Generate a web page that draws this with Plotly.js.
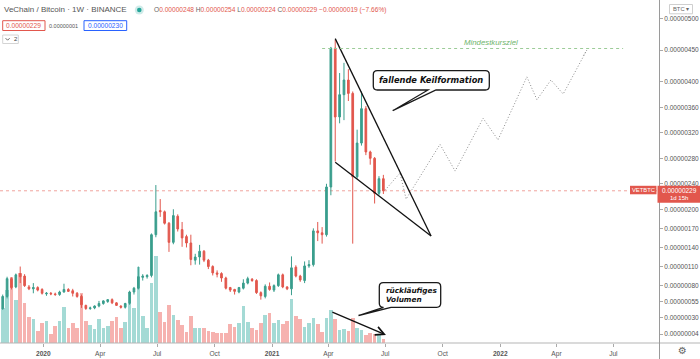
<!DOCTYPE html>
<html><head><meta charset="utf-8">
<script src="https://cdn.plot.ly/plotly-3.0.1.min.js"></script>
<style>html,body{margin:0;padding:0;background:#fff;}#chart{width:700px;height:359px;}</style>
</head><body><div id="chart"></div>
<script>
// ---- data (prices in satoshi = 1e-8 BTC, weekly candles starting 2019-10-28) ----
const START_WEEK = Date.UTC(2019, 9, 28);
const OPEN = [44,63,91,78,99,95,78,75,77,74, 67,68,67,66,70,74,72,68,63,49, 44,45,48,52,55,58,53,48,46,52,
  70,76,93,94,96,160,198,196,178,148, 189,168,157,147,120,125,134,120,110,100, 99,92,77,74,70,76,84,90,88,69,
  63,79,73,80,97,78,75,109,95,88, 111,113,166,163,160,235,453,345,380,403, 382,251,304,358,290,280,225,248];
const HIGH = [66,94,93,99,110,98,81,84,79,76, 70,70,69,72,83,76,75,70,66,50, 47,49,56,57,59,60,54,49,53,72,
  78,110,98,98,162,238,216,198,180,200, 192,180,160,160,130,144,136,122,112,104, 101,94,78,75,78,90,94,92,90,71,
  82,85,82,99,99,79,126,112,97,118, 120,170,180,172,240,455,466,414,430,420, 385,325,385,362,292,282,252,254];
const LOW = [42,60,74,76,84,78,73,68,71,66, 64,65,64,64,69,70,63,61,45,42, 42,43,46,50,53,51,48,44,44,50,
  66,74,88,91,93,156,188,176,133,145, 165,141,140,112,113,113,117,106,96,93, 86,74,70,66,68,74,82,86,67,58,
  60,72,70,78,76,73,65,93,86,84, 108,110,150,146,157,222,275,335,340,370, 146,248,300,285,270,209,222,224];
const CLOSE = [63,91,77,97,94,80,75,77,73,68, 68,67,66,70,74,71,68,63,50,44, 45,48,52,56,58,53,49,46,52,70,
  76,94,95,96,160,196,196,178,148,190, 169,155,147,121,125,134,120,110,100,98, 92,76,73,71,77,84,91,88,69,64,
  79,74,80,97,78,75,108,95,89,111, 113,166,163,160,235,453,345,380,403,382, 251,304,358,290,280,225,248,229];
const VOLUME = [347,530,663,430,697,403,257,237,120,197, 217,87,170,223,363,147,203,153,497,220,
  177,137,237,153,170,220,263,147,207,390, 350,763,270,147,597,870,313,213,380,280,
  230,180,113,273,147,147,147,123,113,97, 97,97,190,163,203,370,213,147,130,197,
  280,303,203,230,190,223,437,270,237,163, 203,253,190,113,247,330,237,130,137,123,
  250,150,130,80,100,90,80,40];
const Y_TICK_VALUES = [4,30,55,80,110,140,170,200,240,280,320,360,400,450,500];
const Y_TICK_LABELS = ['0.00000004','0.00000030','0.00000055','0.00000080','0.00000110','0.00000140','0.00000170',
  '0.00000200','0.00000240','0.00000280','0.00000320','0.00000360','0.00000400','0.00000450','0.00000500'];
const X_TICK_DATES = ['2020-01-01','2020-04-01','2020-07-01','2020-10-01','2021-01-01','2021-04-01','2021-07-01',
  '2021-10-01','2022-01-01','2022-04-01','2022-07-01'];
const X_TICK_LABELS = ['<b>2020</b>','Apr','Jul','Oct','<b>2021</b>','Apr','Jul','Oct','<b>2022</b>','Apr','Jul'];
// drawings: [week index, price]
const WEDGE_UPPER = [[76.0,468],[97.9,158]];
const WEDGE_LOWER = [[76.0,274],[97.9,158]];
const PROJECTION = [[87.4,230],[90.8,257],[92.2,216],[99.95,302],[103.4,260],[109.8,343],[113.2,309],
  [119.8,408],[122.1,372],[125.3,403],[128.1,381],[133.5,450],[132.6,440]];
const TARGET_PRICE = 452.5, TARGET_WEEKS = [73.0,141.8];
const VOL_ARROW = [[75.0,315],[87.6,80]]; // [week, volume]

// ---- helpers ----
const WEEK_MS = 7*24*3600*1000;
function wk(k){ return new Date(START_WEEK + k*WEEK_MS).toISOString().slice(0,19).replace('T',' '); }
const DATES = OPEN.map((_, i) => wk(i));
const W=700, H=359, ML=0, MR=41, MT=0, MB=16;
const PW = W-ML-MR, PH = H-MT-MB;
const px = x => (x-ML)/PW;
const py = y => (MT+PH-y)/PH;
const Y0 = -10.1, Y1 = 528.7;
const yPix = p => MT + PH*(Y1-p)/(Y1-Y0);
const F = 'Liberation Sans, Arial, sans-serif';
const G = '#3a9e8d', R = '#e2574d';
const last = CLOSE.length-1;

const volColors = CLOSE.map((c,i) => c >= OPEN[i] ? 'rgba(38,166,154,0.42)' : 'rgba(234,84,78,0.45)');

const traces = [
  {type:'bar', x:DATES, y:VOLUME, xaxis:'x', yaxis:'y', width:WEEK_MS*0.84,
   marker:{color:volColors, line:{width:0}}, hoverinfo:'skip'},
  {type:'candlestick', x:DATES, open:OPEN, high:HIGH, low:LOW, close:CLOSE, xaxis:'x', yaxis:'y2',
   increasing:{line:{color:G,width:1}, fillcolor:G}, decreasing:{line:{color:R,width:1}, fillcolor:R},
   whiskerwidth:0, hoverinfo:'skip'},
  {type:'scatter', mode:'lines', x:PROJECTION.map(p=>wk(p[0])), y:PROJECTION.map(p=>p[1]), xaxis:'x', yaxis:'y2',
   line:{color:'#8c8c8c', width:1, dash:'1px,2px'}, hoverinfo:'skip'}
];

function f(v){ return v.toFixed(5); }
function bubble(L,T,Rr,B,r,tA,tB,tip){
  const P = (x,y) => f(px(x))+','+f(py(y));
  return 'M'+P(L+r,T)+' L'+P(Rr-r,T)+' Q'+P(Rr,T)+' '+P(Rr,T+r)+' L'+P(Rr,B-r)+' Q'+P(Rr,B)+' '+P(Rr-r,B)+
    ' L'+P(tB,B)+' L'+P(tip[0],tip[1])+' L'+P(tA,B)+' L'+P(L+r,B)+' Q'+P(L,B)+' '+P(L,B-r)+' L'+P(L,T+r)+
    ' Q'+P(L,T)+' '+P(L+r,T)+' Z';
}
function rectP(x0,y0,x1,y1,line,fill,lw){
  return {type:'rect', xref:'paper', yref:'paper', x0:px(x0), x1:px(x1), y0:py(y1), y1:py(y0),
    line:{color:line, width:lw===undefined?1:lw}, fillcolor:fill, layer:'above'};
}
function txt(x,y,text,size,color,extra){
  return Object.assign({xref:'paper', yref:'paper', x:px(x), y:py(y), text:text, showarrow:false,
    font:{family:F, size:size, color:color}, xanchor:'left', yanchor:'middle', borderpad:0}, extra||{});
}

const yc = yPix(CLOSE[last]);
const shapes = [
  {type:'line', xref:'paper', yref:'y2', x0:0, x1:1, y0:CLOSE[last], y1:CLOSE[last],
   line:{color:'rgba(226,87,77,0.55)', width:1, dash:'dot'}, layer:'below'},
  {type:'line', xref:'paper', yref:'paper', x0:px(0), x1:px(700), y0:py(MT+PH), y1:py(MT+PH), line:{color:'#b5b5b5', width:1}, layer:'above'},
  {type:'line', xref:'paper', yref:'paper', x0:px(659.5), x1:px(659.5), y0:py(0), y1:py(359), line:{color:'#9a9a9a', width:1}, layer:'above'},
  {type:'line', xref:'x', yref:'y2', x0:wk(WEDGE_UPPER[0][0]), y0:WEDGE_UPPER[0][1], x1:wk(WEDGE_UPPER[1][0]), y1:WEDGE_UPPER[1][1], line:{color:'#111', width:1.3}},
  {type:'line', xref:'x', yref:'y2', x0:wk(WEDGE_LOWER[0][0]), y0:WEDGE_LOWER[0][1], x1:wk(WEDGE_LOWER[1][0]), y1:WEDGE_LOWER[1][1], line:{color:'#111', width:1.3}},
  {type:'line', xref:'x', yref:'y2', x0:wk(TARGET_WEEKS[0]), x1:wk(TARGET_WEEKS[1]), y0:TARGET_PRICE, y1:TARGET_PRICE,
   line:{color:'#9ccc98', width:1, dash:'3px,3px'}},
  {type:'path', xref:'paper', yref:'paper', path:bubble(373.3,70.7,489.3,90,4,428,436,[392.7,110.7]), line:{color:'#1a1a1a', width:1.3}, fillcolor:'#fff', layer:'above'},
  {type:'path', xref:'paper', yref:'paper', path:bubble(379.3,282.7,440.7,307.3,4,383.5,391,[358.5,315.5]), line:{color:'#1a1a1a', width:1.3}, fillcolor:'#fff', layer:'above'},
  {type:'circle', xref:'paper', yref:'paper', x0:px(134.8), x1:px(143.8), y0:py(14.5), y1:py(5.5), line:{width:0}, fillcolor:'rgba(38,166,154,0.22)', layer:'above'},
  {type:'circle', xref:'paper', yref:'paper', x0:px(137), x1:px(141.6), y0:py(12.3), y1:py(7.7), line:{width:0}, fillcolor:'#26a69a', layer:'above'},
  rectP(2.7,20.7,45,30.5,'#e2574d','#fff'),
  rectP(84,20.7,126.7,30.5,'#2962ff','#fff'),
  rectP(2.7,35,18.3,43.5,'#d4d4d4','#fff'),
  {type:'path', xref:'paper', yref:'paper', path:'M'+f(px(5.6))+','+f(py(38.2))+' L'+f(px(7.6))+','+f(py(40.2))+' L'+f(px(9.6))+','+f(py(38.2)), line:{color:'#555', width:0.9}, layer:'above'},
  rectP(669.5,4.5,692.5,13.8,'#cfcfcf','#fff'),
  rectP(657.5,yc-5,700,yc+12,R,R,0),
  rectP(630,yc-5,656.5,yc+3.5,R,R,0)
];

const annotations = [
  txt(3,10,'VeChain / Bitcoin · 1W · BINANCE',8,'#555'),
  txt(152.5,10,'O<span style="color:#e2574d">0.00000248</span> H<span style="color:#e2574d">0.00000254</span> L<span style="color:#e2574d">0.00000224</span> C<span style="color:#e2574d">0.00000229 −0.00000019 (−7.66%)</span>',6.6,'#666'),
  txt(23.85,25.8,'0.00000229',6.6,'#e2574d',{xanchor:'center'}),
  txt(63.5,25.8,'0.00000001',5.5,'#555',{xanchor:'center'}),
  txt(105.35,25.8,'0.00000230',6.6,'#2962ff',{xanchor:'center'}),
  txt(12.8,39.4,'2',6,'#444'),
  txt(681,9.3,'BTC ▾',5.8,'#666',{xanchor:'center'}),
  txt(682,350.5,'⚙',10,'#666',{xanchor:'center', font:{family:'DejaVu Sans', size:10, color:'#666'}}),
  txt(679,yc,'0.00000229',6.5,'#fff',{xanchor:'center'}),
  txt(679,yc+7.3,'1d 15h',6,'#fff',{xanchor:'center'}),
  txt(643.2,yc-0.6,'VETBTC',5.8,'#fff',{xanchor:'center'}),
  txt(431.3,80.4,'<b><i>fallende Keilformation</i></b>',8.3,'#111',{xanchor:'center', font:{family:'DejaVu Sans', size:8.3, color:'#111'}}),
  txt(384.5,295,'<b><i>rückläufiges<br>Volumen</i></b>',7.3,'#111',{align:'left', font:{family:'DejaVu Sans', size:7.3, color:'#111'}}),
  {xref:'x', yref:'y2', x:wk(111.5), y:462, text:'<i>Mindestkursziel</i>', showarrow:false,
   font:{family:F, size:7.8, color:'#6fb56c'}, xanchor:'center', yanchor:'middle'},
  {xref:'x', yref:'y', x:wk(VOL_ARROW[1][0]), y:VOL_ARROW[1][1], axref:'x', ayref:'y',
   ax:wk(VOL_ARROW[0][0]), ay:VOL_ARROW[0][1], text:'', showarrow:true, arrowhead:5, arrowsize:1.3,
   arrowwidth:1.3, arrowcolor:'#111', standoff:0, startstandoff:0}
];

const layout = {
  width:W, height:H, margin:{l:ML, r:MR, t:MT, b:MB, pad:0},
  paper_bgcolor:'#fff', plot_bgcolor:'#fff', showlegend:false, boxgap:0.45, bargap:0,
  font:{family:F},
  xaxis:{type:'date', range:[wk(-0.62), wk(150.0)], tickmode:'array', tickvals:X_TICK_DATES, ticktext:X_TICK_LABELS,
    ticks:'outside', ticklen:3, tickcolor:'#aaa', tickfont:{family:F, size:6.6, color:'#555'},
    showgrid:false, zeroline:false, showline:false, rangeslider:{visible:false}, fixedrange:true, ticklabelstandoff:1},
  yaxis:{range:[0, PH*10], visible:false, fixedrange:true, showgrid:false, zeroline:false},
  yaxis2:{overlaying:'y', side:'right', range:[Y0,Y1], tickmode:'array', tickvals:Y_TICK_VALUES, ticktext:Y_TICK_LABELS,
    ticks:'outside', ticklen:3, tickcolor:'#aaa', tickfont:{family:F, size:6.5, color:'#555'},
    showgrid:false, zeroline:false, showline:false, fixedrange:true},
  shapes:shapes, annotations:annotations
};

Plotly.newPlot('chart', traces, layout, {displayModeBar:false, staticPlot:true});
</script>
</body></html>
